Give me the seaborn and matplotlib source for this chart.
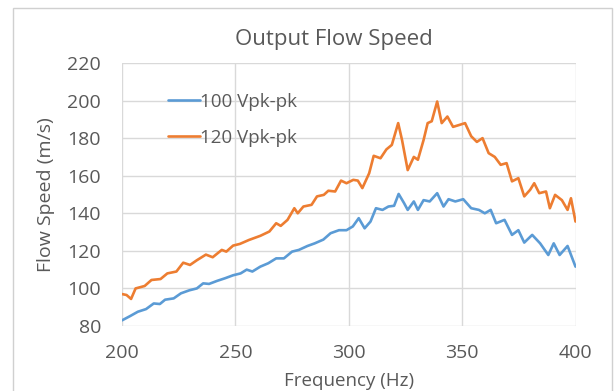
import matplotlib
matplotlib.use("Agg")
import matplotlib.pyplot as plt
import seaborn as sns
import pandas as pd
from matplotlib.patches import Rectangle

freq_100 = [200, 203.6, 207, 210.6, 214, 216.7, 219, 222.8, 226, 229.7, 233, 235.8, 238.4, 241.9,
            245.4, 249, 252.3, 255, 257.5, 261, 264.5, 268, 271.4, 275, 278, 281.8, 285, 288.8,
            292, 295.7, 299, 301.8, 304.4, 307, 309.6, 312, 314.9, 317.5, 320, 322, 324.4, 326,
            328.7, 330.5, 333, 335.7, 339, 341.8, 344, 347, 350.5, 354, 357.4, 360, 362.6, 365,
            368.7, 372, 374.8, 377.4, 380.9, 384.4, 388, 390.4, 393, 396.5, 400]
speed_100 = [83, 85.3, 87.6, 89, 92, 91.7, 94, 94.7, 97.4, 99, 100, 102.7, 102.4, 104,
             105.4, 107, 108, 110, 109, 111.6, 113.4, 116, 116, 119.6, 120.5, 122.6, 124, 126,
             129.4, 131, 131, 133, 137.4, 132, 135.6, 142.7, 141.8, 143.6, 144, 150.3, 145.4, 141.8,
             146.3, 141.8, 147, 146.3, 150.7, 143.6, 147.5, 146.3, 147.5, 142.7, 141.8, 140, 141.8, 134.7,
             136.5, 128.5, 131, 124.4, 128.5, 124, 117.8, 124, 117.8, 122.6, 111.6]

freq_120 = [200, 202, 204, 206, 210, 213, 217, 220, 224, 227, 230, 233, 237, 240, 244, 246, 249,
            252, 256, 261, 265, 268, 270, 273, 276, 277.5, 280, 283.6, 286, 289, 291, 294, 296.6,
            299, 302, 304, 306, 309, 311, 314, 316.6, 319, 321.8, 323.5, 326, 328.7, 330.5, 333,
            334.8, 336.6, 339, 341, 343.5, 346, 348.7, 351.3, 354, 356.5, 359, 361.7, 364.4, 367,
            369.6, 372, 374.8, 377.4, 380, 381.8, 384, 387, 388.7, 391, 394, 396.5, 398, 400]
speed_120 = [97, 96.5, 94.4, 100, 101.3, 104.5, 105, 108, 109, 113.7, 112.5, 115, 118, 116.6, 120.5, 119.6, 122.8,
             123.7, 125.8, 128, 130.3, 134.7, 133.3, 136.5, 142.7, 140, 143.6, 144.5, 149, 149.8, 152, 151.6, 157.4,
             156, 157.8, 157.4, 153.4, 161.3, 170.6, 169.3, 174, 176.4, 188, 179, 163, 170, 168.5, 179,
             188, 189, 199.5, 188, 191.5, 186, 187, 188, 181, 178, 180, 172, 170, 165.8,
             166.7, 157, 158.7, 149, 152.5, 156, 150.7, 151.6, 142.7, 149.8, 147, 141.8, 148, 135.6]

series_names = ["100 Vpk-pk", "120 Vpk-pk"]
x_ticks = [200, 250, 300, 350, 400]
y_ticks = [80, 100, 120, 140, 160, 180, 200, 220]

df = pd.concat([
    pd.DataFrame({"Frequency (Hz)": freq_100, "Flow Speed (m/s)": speed_100, "series": series_names[0]}),
    pd.DataFrame({"Frequency (Hz)": freq_120, "Flow Speed (m/s)": speed_120, "series": series_names[1]}),
])

sns.set_theme(style="white")
plt.rcParams['font.family'] = ['Open Sans', 'DejaVu Sans']
text_color = "#595959"
grid_color = "#D9D9D9"

fig = plt.figure(figsize=(6.16, 3.91), dpi=100)
fig.patch.set_facecolor("white")
ax = fig.add_axes([122/616, 1-326/391, (575.5-122)/616, (326-63)/391])

sns.lineplot(data=df, x="Frequency (Hz)", y="Flow Speed (m/s)", hue="series",
             palette=["#5B9BD5", "#ED7D31"], linewidth=1.9, ax=ax, sort=False)

ax.set_xlim(200, 400)
ax.set_ylim(80, 220)
ax.set_xticks(x_ticks)
ax.set_yticks(y_ticks)
ax.grid(True, color=grid_color, linewidth=1.0)
ax.set_axisbelow(True)
for s in ax.spines.values():
    s.set_visible(False)
ax.tick_params(axis="both", length=0, labelsize=14, colors=text_color)
ax.tick_params(axis="x", pad=13)
ax.tick_params(axis="y", pad=15)
ax.set_xlabel("Frequency (Hz)", fontsize=13.5, color=text_color, va="center")
ax.xaxis.set_label_coords(0.5, (326-381)/263)
ax.set_ylabel("Flow Speed (m/s)", fontsize=14, color=text_color, va="center")
ax.yaxis.set_label_coords((46-122)/453.5, 0.5)

leg = ax.legend(loc="upper left", bbox_to_anchor=(0.085, 0.915), frameon=False,
                fontsize=13.5, handlelength=1.7, handletextpad=0.0, labelspacing=0.95,
                borderaxespad=0)
for t in leg.get_texts():
    t.set_color(text_color)

fig.text(334/616, 1-39/391, "Output Flow Speed", ha="center", va="center",
         fontsize=16, color=text_color)

fig.patches.append(Rectangle((13/616, -0.05), (612-13)/616, 1.05-8/391,
                             transform=fig.transFigure, fill=False,
                             edgecolor="#D0D0D0", linewidth=1.0))

fig.savefig("out.png", dpi=100, facecolor="white")
